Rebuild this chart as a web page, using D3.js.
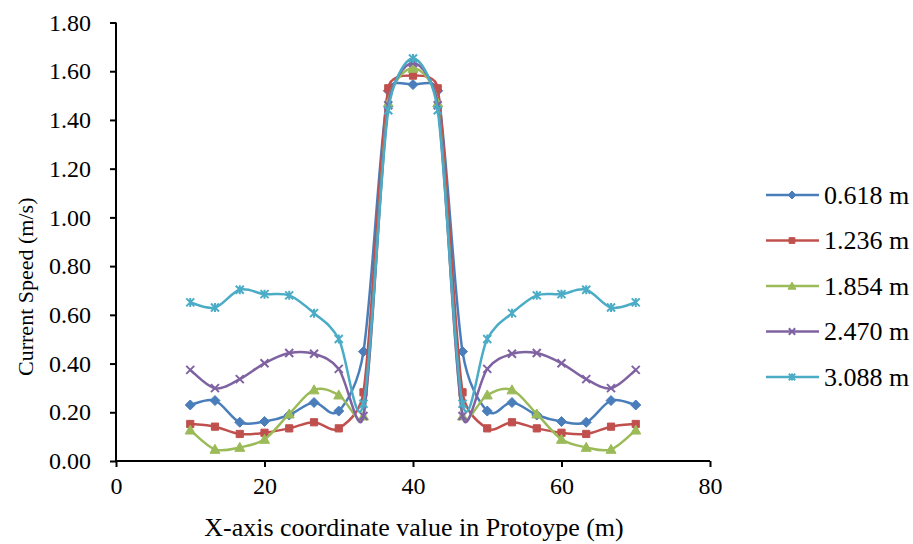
<!DOCTYPE html>
<html>
<head>
<meta charset="utf-8">
<script src="https://cdn.jsdelivr.net/npm/d3@7"></script>
<style>
  html, body { margin: 0; padding: 0; background: #fff; }
  svg { display: block; }
  text { font-family: "Liberation Serif", "Times New Roman", serif; fill: #000; }
</style>
</head>
<body>
<svg id="chart" width="913" height="544"></svg>
<script>
// ---- data ----
const xValues = [10, 13.33, 16.67, 20, 23.33, 26.67, 30, 33.33, 36.67, 40, 43.33, 46.67, 50, 53.33, 56.67, 60, 63.33, 66.67, 70];
const seriesNames = ["0.618 m", "1.236 m", "1.854 m", "2.470 m", "3.088 m"];
const s0618 = [0.230, 0.248, 0.159, 0.162, 0.189, 0.240, 0.205, 0.449, 1.52, 1.545, 1.52, 0.449, 0.205, 0.240, 0.189, 0.162, 0.159, 0.248, 0.230];
const s1236 = [0.152, 0.141, 0.111, 0.116, 0.134, 0.159, 0.134, 0.282, 1.53, 1.582, 1.53, 0.282, 0.134, 0.159, 0.134, 0.116, 0.111, 0.141, 0.152];
const s1854 = [0.127, 0.048, 0.056, 0.089, 0.193, 0.292, 0.271, 0.185, 1.47, 1.612, 1.47, 0.185, 0.271, 0.292, 0.193, 0.089, 0.056, 0.048, 0.127];
const s2470 = [0.374, 0.299, 0.336, 0.401, 0.443, 0.440, 0.378, 0.185, 1.46, 1.634, 1.46, 0.185, 0.378, 0.440, 0.443, 0.401, 0.336, 0.299, 0.374];
const s3088 = [0.651, 0.630, 0.703, 0.685, 0.680, 0.607, 0.501, 0.235, 1.44, 1.652, 1.44, 0.235, 0.501, 0.607, 0.680, 0.685, 0.703, 0.630, 0.651];
const xTicks = [0, 20, 40, 60, 80];
const yTicks = [0, 0.2, 0.4, 0.6, 0.8, 1.0, 1.2, 1.4, 1.6, 1.8];
const xTitle = "X-axis coordinate value in Protoype (m)";
const yTitle = "Current Speed (m/s)";

const colors = ["#4a7ebb", "#c0504d", "#9bbb59", "#7f62a1", "#4bacc6"];
const markers = ["diamond", "square", "triangle", "x", "star"];
const allSeries = [s0618, s1236, s1854, s2470, s3088];

// ---- layout ----
const svg = d3.select("#chart");
const x = d3.scaleLinear().domain([0, 80]).range([116, 710]);
const y = d3.scaleLinear().domain([0, 1.8]).range([461, 22.5]);

// Spreadsheet-style smoothed curve: Bezier with tangent (P2-P0)/6,
// control arm limited to half of the segment length.
function smoothCurve(context) {
  let pts = [];
  return {
    areaStart() {}, areaEnd() {},
    lineStart() { pts = []; },
    point(px, py) { pts.push([+px, +py]); },
    lineEnd() {
      const n = pts.length;
      if (!n) return;
      context.moveTo(pts[0][0], pts[0][1]);
      const lim = (vx, vy, maxLen) => {
        const L = Math.hypot(vx, vy);
        if (L > maxLen && L > 0) { const s = maxLen / L; return [vx * s, vy * s]; }
        return [vx, vy];
      };
      for (let i = 0; i < n - 1; i++) {
        const p0 = pts[Math.max(0, i - 1)], p1 = pts[i], p2 = pts[i + 1], p3 = pts[Math.min(n - 1, i + 2)];
        const d12 = Math.hypot(p2[0] - p1[0], p2[1] - p1[1]);
        const a = lim((p2[0] - p0[0]) / 6, (p2[1] - p0[1]) / 6, d12 / 2);
        const b = lim((p3[0] - p1[0]) / 6, (p3[1] - p1[1]) / 6, d12 / 2);
        context.bezierCurveTo(p1[0] + a[0], p1[1] + a[1], p2[0] - b[0], p2[1] - b[1], p2[0], p2[1]);
      }
    }
  };
}

function markerPath(type) {
  const p = d3.path();
  if (type === "diamond") {
    const r = 5; p.moveTo(0, -r); p.lineTo(r, 0); p.lineTo(0, r); p.lineTo(-r, 0); p.closePath();
  } else if (type === "square") {
    const r = 3.6; p.rect(-r, -r, 2 * r, 2 * r);
  } else if (type === "triangle") {
    const r = 5; p.moveTo(0, -r); p.lineTo(r, r * 0.8); p.lineTo(-r, r * 0.8); p.closePath();
  } else if (type === "x") {
    const r = 4; p.moveTo(-r, -r); p.lineTo(r, r); p.moveTo(r, -r); p.lineTo(-r, r);
  } else if (type === "star") {
    const r = 4; p.moveTo(-r, -r); p.lineTo(r, r); p.moveTo(r, -r); p.lineTo(-r, r);
    p.moveTo(0, -r - 0.5); p.lineTo(0, r + 0.5);
  }
  return p.toString();
}
function drawMarker(g, type, color, cx, cy, k = 1) {
  const filled = type === "diamond" || type === "square" || type === "triangle";
  g.append("path")
    .attr("d", markerPath(type))
    .attr("transform", `translate(${cx},${cy}) scale(${k})`)
    .attr("fill", filled ? color : "none")
    .attr("stroke", color)
    .attr("stroke-width", (filled ? 1 : 2) / k);
}

// ---- axes ----
const xAxis = d3.axisBottom(x).tickValues(xTicks).tickSize(6).tickPadding(10).tickFormat(d3.format("d"));
const gx = svg.append("g").attr("transform", `translate(0,${y(0)})`).call(xAxis);
gx.select(".domain").attr("stroke", "#000").attr("stroke-width", 2).attr("d", `M${x(0)},0H${x(80)}`);
gx.selectAll(".tick line").attr("stroke", "#000").attr("stroke-width", 2);
gx.selectAll(".tick text").attr("font-size", 24).attr("font-family", "Liberation Serif, serif");

const yAxis = d3.axisLeft(y).tickValues(yTicks).tickSize(6).tickPadding(19).tickFormat(d3.format(".2f"));
const gy = svg.append("g").attr("transform", `translate(${x(0)},0)`).call(yAxis);
gy.select(".domain").attr("stroke", "#000").attr("stroke-width", 2).attr("d", `M0,${y(1.8)}V${y(0)}`);
gy.selectAll(".tick line").attr("stroke", "#000").attr("stroke-width", 2);
gy.selectAll(".tick text").attr("font-size", 24).attr("font-family", "Liberation Serif, serif");

// ---- titles ----
svg.append("text").attr("x", 414).attr("y", 536).attr("text-anchor", "middle")
  .attr("font-size", 26).text(xTitle);
svg.append("text").attr("transform", `translate(33,${y(0.9) + 45}) rotate(-90)`)
  .attr("text-anchor", "middle").attr("font-size", 22).text(yTitle);

// ---- series ----
const line = d3.line().x((d, i) => x(xValues[i])).y(d => y(d)).curve(smoothCurve);
const plot = svg.append("g");
allSeries.forEach((vals, si) => {
  const g = plot.append("g");
  g.append("path").attr("d", line(vals)).attr("fill", "none")
    .attr("stroke", colors[si]).attr("stroke-width", 2.5);
  vals.forEach((v, i) => drawMarker(g, markers[si], colors[si], x(xValues[i]), y(v)));
});

// ---- legend ----
const lg = svg.append("g");
seriesNames.forEach((name, i) => {
  const cy = 195 + i * 45.5;
  lg.append("line").attr("x1", 766).attr("x2", 819).attr("y1", cy).attr("y2", cy)
    .attr("stroke", colors[i]).attr("stroke-width", 2.5);
  drawMarker(lg, markers[i], colors[i], 792, cy, 0.8);
  lg.append("text").attr("x", 824).attr("y", cy).attr("dy", "0.34em")
    .attr("font-size", 26).text(name);
});
</script>
</body>
</html>
